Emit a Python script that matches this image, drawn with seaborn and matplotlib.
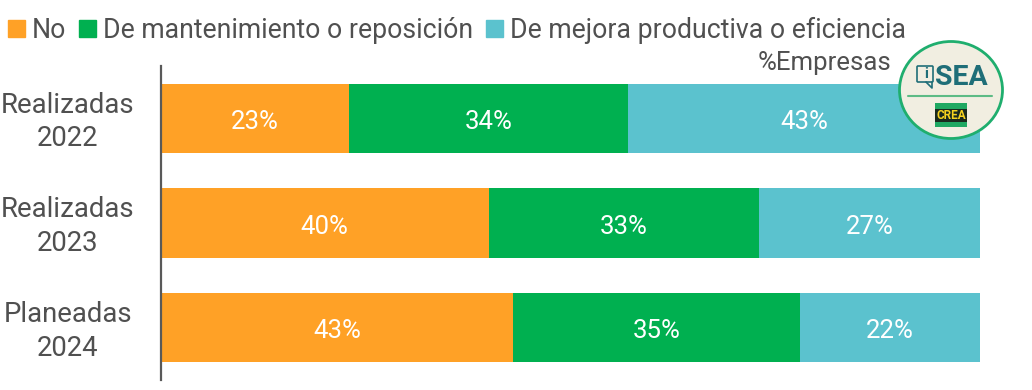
'''stacked horizontal bars: tipo de inversion por empresas'''
import pandas as pd
import seaborn as sns
import matplotlib.pyplot as plt
from matplotlib import patches, transforms

CATEGORIES = ['Realizadas\n2022', 'Realizadas\n2023', 'Planeadas\n2024']
SERIES = ['No', 'De mantenimiento o reposición', 'De mejora productiva o eficiencia']
NO = [23, 40, 43]
MANTENIMIENTO = [34, 33, 35]
MEJORA = [43, 27, 22]
COLORS = ['#FFA126', '#00B050', '#5BC2CE']

TEXT = '#505050'

sns.set_theme(style='white')
plt.rcParams['font.family'] = ['Roboto', 'DejaVu Sans']

df = pd.DataFrame({'cat': CATEGORIES, SERIES[0]: NO, SERIES[1]: MANTENIMIENTO, SERIES[2]: MEJORA})

fig = plt.figure(figsize=(10.32, 3.9), dpi=100)
ax = fig.add_axes([161 / 1032, 1 - 380 / 390, 819 / 1032, 314 / 390])

#widest first, the shorter cumulative bars sit on top
cum = df[SERIES].cumsum(axis=1)
for name, color in reversed(list(zip(SERIES, COLORS))):
    sns.barplot(x=cum[name], y=df['cat'], color=color, width=0.66, saturation=1, ax=ax,
                edgecolor='none', linewidth=0)

#value labels, centred in each segment
for name in SERIES:
    for i, v in enumerate(df[name]):
        ax.text(cum[name][i] - v / 2, i + 0.035, '%d%%' % v, ha='center', va='center',
                color='white', fontsize=18.5)

ax.set_xlim(0, 100)
ax.set_ylim(2.5, -0.5)
ax.set_xlabel('')
ax.set_ylabel('')
ax.xaxis.set_visible(False)
ax.tick_params(axis='y', length=0, pad=67, labelsize=19.8, labelcolor=TEXT)
#tick labels sit a little high in the original
shift = transforms.ScaledTranslation(0, 2 / 72, fig.dpi_scale_trans)
for lbl in ax.get_yticklabels():
    lbl.set_ha('center')
    lbl.set_linespacing(1.33)
    lbl.set_transform(lbl.get_transform() + shift)
sns.despine(ax=ax, top=True, right=True, bottom=True)
ax.spines['left'].set_color('#595959')
ax.spines['left'].set_linewidth(1.6)

handles = [patches.Patch(color=c, label=s) for s, c in zip(SERIES, COLORS)]
fig.legend(handles=handles, loc='upper left', bbox_to_anchor=(-3 / 1032, 1 - 6 / 390), ncol=3, frameon=False,
           fontsize=19.2, labelcolor=TEXT, handlelength=0.64, handleheight=0.64, handletextpad=0.27,
           columnspacing=0.47, borderaxespad=0.1, borderpad=0.3)

fig.text(891 / 1032, 1 - 63 / 390, '%Empresas', ha='right', va='center', color=TEXT, fontsize=18.5)

#badge drawn in pixel coordinates on an overlay
logo = fig.add_axes([0, 0, 1, 1], facecolor='none')
logo.set_xlim(0, 1032)
logo.set_ylim(390, 0)
logo.axis('off')
logo.add_patch(patches.Ellipse((951, 90), 103, 97, facecolor='#F1EEE1', edgecolor='#1FAE6E', linewidth=2))
logo.plot([908, 992], [96, 96], color='#5DBB85', linewidth=1.5)
logo.add_patch(patches.FancyBboxPatch((918, 67), 14, 14, boxstyle='round,pad=1', facecolor='none',
                                      edgecolor='#1F6E78', linewidth=1.2))
logo.plot([926, 932, 932], [82, 88, 82], color='#1F6E78', linewidth=1.2)
logo.text(926, 74, 'i', ha='center', va='center', color='#1F6E78', fontsize=11, fontweight='bold')
logo.text(961, 77.5, 'SEA', ha='center', va='center', color='#1F6E78', fontsize=20.5, fontweight='bold')
logo.add_patch(patches.Rectangle((935, 103), 32, 24, facecolor='#1FA862', edgecolor='none'))
logo.add_patch(patches.Rectangle((935, 109), 32, 13, facecolor='#1A2A1E', edgecolor='none'))
logo.text(951, 115.5, 'CREA', ha='center', va='center', color='#F6D21F', fontsize=8.5, fontweight='bold')

fig.savefig('out.png', dpi=100)
